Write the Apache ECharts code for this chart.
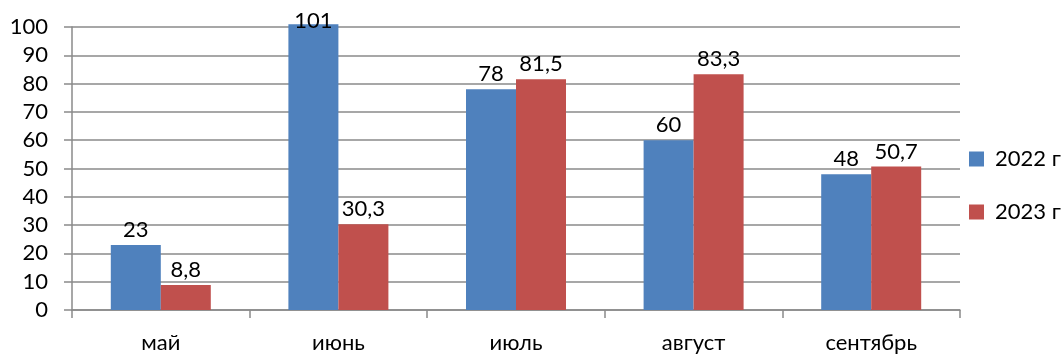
<!DOCTYPE html>
<html>
<head>
<meta charset="utf-8">
<script src="https://cdn.jsdelivr.net/npm/echarts@6/dist/echarts.min.js"></script>
<style>
  html, body { margin: 0; padding: 0; background: #fff; }
  #chart { width: 1064px; height: 356px; }
</style>
</head>
<body>
<div id="chart"></div>
<script>
// Monthly values for two seasons
const months = ['май', 'июнь', 'июль', 'август', 'сентябрь'];
const values2022 = [23, 101, 78, 60, 48];
const values2023 = [8.8, 30.3, 81.5, 83.3, 50.7];
const seriesNames = ['2022 г', '2023 г'];

const FONT = 'Lato, "Liberation Sans", sans-serif';
const FONT_SIZE = 22;
const GRID_COLOR = '#8a8a8a';

const fmt = p => String(p.value).replace('.', ',');

// The 101 value rises above the 100 line, so its label sits on the bar top
const data2022 = values2022.map(v => v > 100
  ? { value: v, label: { position: 'insideTop', distance: -14 } }
  : v);

const chart = echarts.init(document.getElementById('chart'), null, { renderer: 'canvas' });
chart.setOption({
  animation: false,
  textStyle: { fontFamily: FONT },
  grid: { left: 72, right: 104, top: 27, bottom: 46, containLabel: false },
  legend: {
    orient: 'vertical',
    left: 969,
    top: 148,
    padding: 0,
    itemWidth: 15,
    itemHeight: 15,
    itemGap: 31,
    icon: 'rect',
    textStyle: { fontSize: FONT_SIZE, color: '#000', fontFamily: FONT, padding: [0, 0, 0, 6] },
    data: seriesNames
  },
  xAxis: {
    type: 'category',
    data: months,
    axisLine: { lineStyle: { color: GRID_COLOR, width: 1.5 } },
    axisTick: { show: true, length: 8, lineStyle: { color: GRID_COLOR, width: 1.5 } },
    axisLabel: { fontSize: FONT_SIZE, color: '#000', margin: 22, fontFamily: FONT }
  },
  yAxis: {
    type: 'value',
    min: 0,
    max: 100,
    interval: 10,
    axisLine: { show: true, lineStyle: { color: GRID_COLOR, width: 1.5 } },
    axisTick: { show: true, length: 8, lineStyle: { color: GRID_COLOR, width: 1.5 } },
    axisLabel: { fontSize: FONT_SIZE, color: '#000', margin: 24, fontFamily: FONT },
    splitLine: { show: true, lineStyle: { color: GRID_COLOR, width: 1.5 } }
  },
  series: [
    {
      name: seriesNames[0],
      type: 'bar',
      data: data2022,
      barWidth: 50,
      barGap: '0%',
      clip: false,
      itemStyle: { color: '#4F81BD' },
      label: { show: true, position: 'top', distance: 4, fontSize: FONT_SIZE, color: '#000', fontFamily: FONT, formatter: fmt }
    },
    {
      name: seriesNames[1],
      type: 'bar',
      data: values2023,
      barWidth: 50,
      barGap: '0%',
      clip: false,
      itemStyle: { color: '#C0504D' },
      label: { show: true, position: 'top', distance: 4, fontSize: FONT_SIZE, color: '#000', fontFamily: FONT, formatter: fmt }
    }
  ]
});
</script>
</body>
</html>
